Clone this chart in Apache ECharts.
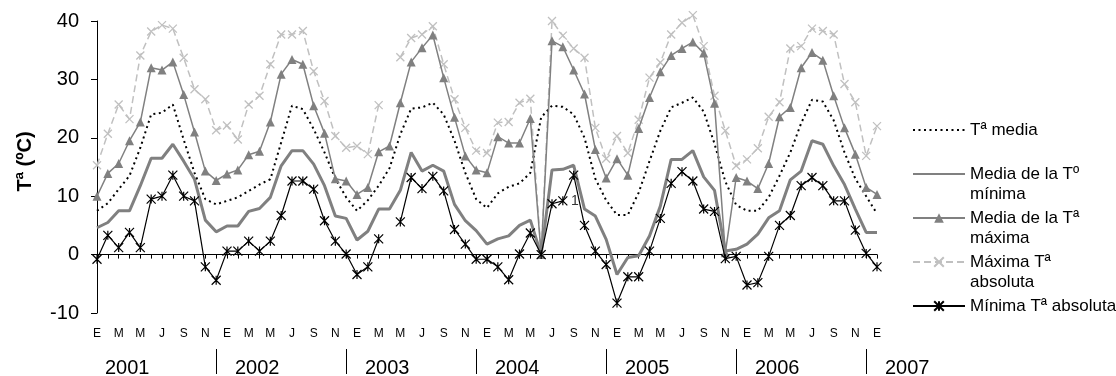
<!DOCTYPE html>
<html>
<head>
<meta charset="utf-8">
<script src="https://cdn.jsdelivr.net/npm/echarts@6/dist/echarts.min.js"></script>
<style>
html, body { margin: 0; padding: 0; background: #fff; }
#chart { width: 1116px; height: 376px; }
</style>
</head>
<body>
<div id="chart"></div>
<script>
var fuente = '"Liberation Sans", Arial, sans-serif';
var meses = ['E', 'F', 'M', 'A', 'M', 'J', 'J', 'A', 'S', 'O', 'N', 'D'];
var anios = ['2001', '2002', '2003', '2004', '2005', '2006', '2007'];

// ene 2001 .. ene 2007 (73 meses)
var tMedia = [7.5, 8.8, 11.2, 13.5, 18.3, 24.0, 24.3, 25.7, 19.7, 14.0, 9.5, 8.6,
	9.2, 9.8, 10.9, 12.0, 12.9, 19.2, 25.5, 24.9, 21.5, 17.5, 13.0, 9.8,
	7.5, 9.3, 11.8, 14.8, 20.6, 25.0, 25.2, 26.0, 24.0, 19.5, 14.0, 9.5,
	8.0, 10.5, 11.6, 12.2, 14.0, 23.5, 25.5, 25.3, 24.0, 20.0, 13.0, 9.3,
	6.8, 6.8, 10.6, 16.0, 21.2, 25.2, 26.0, 26.9, 24.5, 19.0, 12.5, 8.5,
	7.5, 7.5, 9.8, 13.5, 17.5, 22.5, 26.5, 26.2, 23.0, 17.5, 13.0, 10.0, 7.0];
var tMinMedia = [4.6, 5.5, 7.5, 7.5, 11.8, 16.5, 16.5, 18.9, 16.0, 12.9, 5.9, 3.9,
	4.9, 4.9, 7.4, 7.9, 9.8, 15.2, 17.8, 17.8, 15.5, 11.8, 6.6, 6.2,
	2.5, 4.0, 7.8, 7.8, 11.0, 17.5, 14.3, 15.3, 14.3, 8.6, 5.8, 4.1,
	1.8, 2.7, 3.2, 5.0, 5.9, 0, 14.5, 14.6, 15.3, 7.8, 6.6, 2.6,
	-3.4, -0.5, -0.2, 3.2, 8.3, 16.3, 16.3, 17.8, 13.3, 11.0, 0.6, 0.9,
	1.8, 3.5, 6.3, 7.5, 12.8, 14.3, 19.5, 18.9, 15.2, 12.0, 7.8, 3.8, 3.8];
var tMaxMedia = [10.0, 13.9, 15.6, 19.5, 22.7, 32.0, 31.6, 33.0, 27.4, 21.0, 14.3, 12.7,
	13.8, 14.5, 17.1, 17.7, 22.7, 30.9, 33.4, 32.6, 25.5, 20.8, 13.0, 12.6,
	10.3, 11.5, 17.6, 18.6, 26.0, 33.0, 35.4, 37.6, 30.3, 23.5, 16.9, 14.5,
	14.0, 20.2, 19.1, 19.1, 23.3, 0, 36.6, 35.6, 31.6, 27.5, 18.0, 13.1,
	16.4, 13.6, 21.6, 26.9, 31.3, 34.1, 35.3, 36.4, 34.5, 25.9, 0.3, 13.2,
	12.6, 11.3, 15.6, 23.6, 25.2, 32.0, 34.6, 33.3, 27.2, 21.7, 17.2, 11.5, 10.3];
var tMaxAbs = [15.3, 20.7, 25.7, 23.2, 34.1, 38.2, 39.3, 38.7, 33.7, 28.3, 26.6, 21.3,
	22.1, 19.7, 25.7, 27.2, 32.6, 37.7, 37.7, 38.3, 31.4, 26.3, 20.3, 18.3,
	18.6, 17.2, 25.6, null, 33.8, 37.1, 37.7, 39.1, 32.6, 26.6, 21.7, 17.8,
	17.4, 22.6, 22.7, 26.0, 26.7, 0, 40.0, 37.5, 35.3, 33.7, 21.7, 16.4,
	20.3, 17.4, 23.1, 30.3, 32.9, 37.7, 39.7, 41.0, 35.7, 27.2, 21.2, 15.2,
	16.3, 18.2, 23.6, 26.1, 35.3, 35.7, 38.7, 38.3, 37.7, 29.2, 26.1, 16.9, 22.0];
var tMinAbs = [-0.8, 3.3, 1.2, 3.8, 1.2, 9.5, 10.0, 13.6, 10.0, 9.2, -2.1, -4.4,
	0.6, 0.6, 2.3, 0.6, 2.3, 6.7, 12.6, 12.6, 11.2, 5.8, 2.3, 0.1,
	-3.4, -2.1, 2.7, null, 5.6, 13.2, 11.3, 13.4, 10.9, 4.3, 1.8, -0.8,
	-0.8, -2.1, -4.3, 0.1, 3.7, 0, 8.7, 9.2, 13.6, 5.0, 0.6, -1.7,
	-8.3, -3.8, -3.8, 0.6, 6.2, 12.2, 14.2, 12.6, 7.8, 7.4, -0.7, -0.3,
	-5.2, -4.8, -0.3, 5.0, 6.7, 11.8, 13.2, 11.8, 9.2, 9.2, 4.2, 0.2, -2.1];

var nombres = ['Tª media', 'Media de la Tº mínima', 'Media de la Tª máxima', 'Máxima Tª absoluta', 'Mínima Tª absoluta'];
var leyenda = {
	'Tª media': ['Tª media', ' '],
	'Media de la Tº mínima': ['Media de la Tº', 'mínima'],
	'Media de la Tª máxima': ['Media de la Tª', 'máxima'],
	'Máxima Tª absoluta': ['Máxima Tª', 'absoluta'],
	'Mínima Tª absoluta': ['Mínima Tª absoluta', ' ']
};

// eje de meses y eje de años
var catMeses = [], catAnios = [];
for (var a = 0; a < 6; a++) {
	for (var m = 0; m < 12; m++) {
		catMeses.push(meses[m]);
		catAnios.push(m === 0 ? anios[a] : '');
	}
}
catMeses.push(meses[0]);
catAnios.push(anios[6]);

var cruz = 'path://M0,0L10,10M10,0L0,10';
var asterisco = 'path://M0,0L10,10M10,0L0,10M5,0L5,10';

var myChart = echarts.init(document.getElementById('chart'));
var option = {
	animation: false,
	backgroundColor: '#fff',
	textStyle: { fontFamily: fuente },
	grid: {
		left: 97,
		right: 239,
		top: 21,
		bottom: 63,
		containLabel: false,
		outerBoundsMode: 'none'
	},
	legend: {
		orient: 'vertical',
		left: 912,
		top: 100,
		padding: 0,
		itemGap: -16,
		itemWidth: 52,
		itemHeight: 12,
		selectedMode: false,
		data: nombres,
		formatter: function(name) {
			var p = leyenda[name];
			return '{t|' + p[0] + '}\n{t|' + p[1] + '}';
		},
		textStyle: {
			padding: [20, 0, 0, 0],
			backgroundColor: 'rgba(0,0,0,0)',
			rich: {
				t: { fontSize: 17, lineHeight: 20, color: '#000', fontFamily: fuente }
			}
		}
	},
	xAxis: [{
		type: 'category',
		data: catMeses,
		boundaryGap: false,
		axisLine: { lineStyle: { color: '#000', width: 1 } },
		axisTick: { interval: 0, length: 4, lineStyle: { color: '#000' } },
		axisLabel: { interval: 1, color: '#000', fontSize: 12, margin: 15, fontFamily: fuente },
		splitLine: { show: false }
	}, {
		type: 'category',
		data: catAnios,
		boundaryGap: false,
		position: 'bottom',
		offset: 36,
		axisLine: { show: false },
		axisTick: {
			show: true,
			interval: function(i) { return i % 12 === 11; },
			length: 25,
			lineStyle: { color: '#000' }
		},
		axisLabel: {
			interval: function(i) { return i % 12 === 0; },
			align: 'left',
			padding: [0, 0, 0, 8],
			margin: 9,
			color: '#000',
			fontSize: 20,
			fontFamily: fuente
		},
		splitLine: { show: false }
	}],
	yAxis: {
		type: 'value',
		min: -10,
		max: 40,
		interval: 10,
		axisLine: { show: true, lineStyle: { color: '#000' } },
		axisTick: { show: true, length: 6, lineStyle: { color: '#000' } },
		axisLabel: { color: '#000', fontSize: 20, margin: 18, fontFamily: fuente },
		splitLine: { show: false },
		name: 'Tª (ºC)',
		nameLocation: 'middle',
		nameRotate: 90,
		nameGap: 62,
		nameTextStyle: { fontSize: 20, fontWeight: 'bold', color: '#000', fontFamily: fuente, padding: [0, 0, 0, 11] }
	},
	series: [{
		name: nombres[0],
		type: 'line',
		data: tMedia,
		symbol: 'none',
		z: 3,
		lineStyle: { color: '#000', width: 2, type: [2, 3.5] },
		itemStyle: { color: '#000', opacity: 0 }
	}, {
		name: nombres[1],
		type: 'line',
		data: tMinMedia,
		symbol: 'none',
		z: 2,
		lineStyle: { color: '#808080', width: 3 },
		itemStyle: { color: '#808080', opacity: 0 }
	}, {
		name: nombres[2],
		type: 'line',
		data: tMaxMedia,
		symbol: 'triangle',
		symbolSize: 9,
		showAllSymbol: true,
		z: 4,
		lineStyle: { color: '#808080', width: 1.5 },
		itemStyle: { color: '#808080', borderWidth: 0 }
	}, {
		name: nombres[3],
		type: 'line',
		data: tMaxAbs,
		symbol: cruz,
		symbolSize: 8,
		showAllSymbol: true,
		clip: false,
		z: 1,
		lineStyle: { color: '#c0c0c0', width: 1.5, type: [7, 4] },
		itemStyle: { color: '#c0c0c0', borderColor: '#c0c0c0', borderWidth: 1.3 }
	}, {
		name: nombres[4],
		type: 'line',
		data: tMinAbs.map(function(v, i) {
			if (i === 43) {
				return { value: v, label: { show: true, formatter: '1', position: 'right', distance: 3, fontSize: 14, color: '#333' } };
			}
			return v;
		}),
		symbol: asterisco,
		symbolSize: 9,
		showAllSymbol: true,
		z: 5,
		lineStyle: { color: '#000', width: 1.2 },
		itemStyle: { color: '#000', borderColor: '#000', borderWidth: 1.2 }
	}]
};
myChart.setOption(option);
</script>
</body>
</html>
